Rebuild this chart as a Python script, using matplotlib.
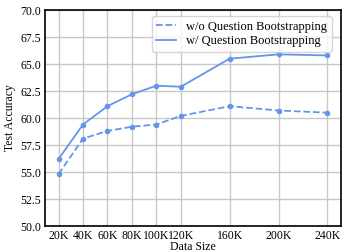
import numpy as np
import matplotlib.pyplot as plt
from matplotlib.lines import Line2D

plt.rcParams['font.family'] = ['Liberation Serif', 'DejaVu Serif']

# Data
sizes = [20, 40, 60, 80, 100, 120, 160, 200, 240]
tick_labels = ["20K", "40K", "60K", "80K", "100K", "120K", "160K", "200K", "240K"]
acc_wo = [54.8, 58.1, 58.8, 59.2, 59.4, 60.2, 61.1, 60.7, 60.5]
acc_w = [56.2, 59.4, 61.1, 62.2, 63.0, 62.9, 65.5, 65.9, 65.8]

color = "#6495ED"

fig = plt.figure(figsize=(3.44, 2.52), dpi=100)
ax = fig.add_axes([0.131, 0.103, 0.860, 0.857])

ax.plot(sizes, acc_wo, linestyle="--", marker="o", markersize=3, color=color,
        linewidth=1.3)
ax.plot(sizes, acc_w, linestyle="-", marker="o", markersize=3, color=color,
        linewidth=1.3)

ax.set_ylim(50, 70)
yt = np.arange(50, 70.1, 2.5)
ax.set_yticks(yt)
ax.set_yticklabels([f"{v:.1f}" for v in yt])
ax.set_xticks(sizes)
ax.set_xticklabels(tick_labels)
ax.tick_params(labelsize=8.5, length=0, pad=3)

ax.grid(True, color="#c8c8c8", linewidth=1.0)
ax.set_axisbelow(True)
for s in ax.spines.values():
    s.set_linewidth(1.2)

ax.set_xlabel("Data Size", fontsize=8.5, labelpad=-1)
ax.set_ylabel("Test Accuracy", fontsize=8.5, labelpad=3)

handles = [Line2D([], [], color=color, linestyle="--", linewidth=1.3),
           Line2D([], [], color=color, linestyle="-", linewidth=1.3)]
ax.legend(handles, ["w/o Question Bootstrapping", "w/ Question Bootstrapping"],
          loc="upper right", fontsize=9, handlelength=1.6, handletextpad=0.8,
          borderpad=0.35, labelspacing=0.2, bbox_to_anchor=(0.99, 1.0))

fig.savefig("out.png", dpi=100)
